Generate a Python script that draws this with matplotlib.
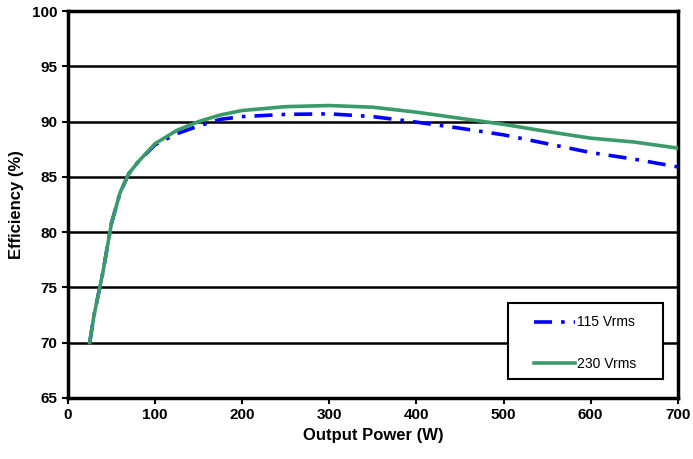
import matplotlib
matplotlib.use("Agg")
import matplotlib.pyplot as plt
from matplotlib.patches import Rectangle

power = [25, 30, 40, 50, 60, 70, 80, 100, 125, 150, 175, 200, 250, 300, 350, 400, 450, 500, 550, 600, 650, 700]
eff_115 = [70.0, 72.5, 76.3, 80.8, 83.6, 85.3, 86.3, 87.9, 88.9, 89.6, 90.2, 90.45, 90.65, 90.7, 90.45, 89.95, 89.4, 88.8, 88.0, 87.2, 86.6, 85.9]
eff_230 = [70.0, 72.5, 76.3, 80.8, 83.6, 85.3, 86.3, 88.0, 89.2, 90.0, 90.6, 91.0, 91.35, 91.45, 91.3, 90.85, 90.3, 89.75, 89.1, 88.5, 88.15, 87.6]

xticks = [0, 100, 200, 300, 400, 500, 600, 700]
yticks = [65, 70, 75, 80, 85, 90, 95, 100]

plt.rcParams['font.family'] = ['Liberation Sans', 'DejaVu Sans']

fig = plt.figure(figsize=(6.93, 4.59), dpi=100)
ax = fig.add_axes([0.098, 0.133, 0.88, 0.843])

ax.plot(power, eff_115, color='#0000FF', lw=2.6, linestyle=(0, (5, 2.5, 1, 2.5)), label='115 Vrms', zorder=3)
ax.plot(power, eff_230, color='#3A9A6A', lw=2.6, label='230 Vrms', zorder=4)

ax.set_xlim(0, 700)
ax.set_ylim(65, 100)
ax.set_xticks(xticks)
ax.set_yticks(yticks)
ax.yaxis.grid(True, color='black', lw=1.8)
ax.set_axisbelow(True)
for s in ax.spines.values():
    s.set_linewidth(2.5)
    s.set_color('black')
ax.tick_params(axis='both', direction='out', length=4, width=1.5, labelsize=11)
for lab in ax.get_xticklabels() + ax.get_yticklabels():
    lab.set_fontweight('bold')
ax.set_xlabel('Output Power (W)', fontsize=12, fontweight='bold', labelpad=4)
ax.set_ylabel('Efficiency (%)', fontsize=12, fontweight='bold', labelpad=6)

# legend box frame
box = Rectangle((0.721, 0.049), 0.254, 0.196, transform=ax.transAxes,
                facecolor='white', edgecolor='black', lw=1.5, zorder=5)
ax.add_patch(box)
leg = ax.legend(loc='center', bbox_to_anchor=(0.848, 0.142), fontsize=10, frameon=False,
                borderpad=0, labelspacing=1.95, handlelength=3.0, handletextpad=0.15)
leg.set_zorder(6)

fig.savefig('out.png', dpi=100)
